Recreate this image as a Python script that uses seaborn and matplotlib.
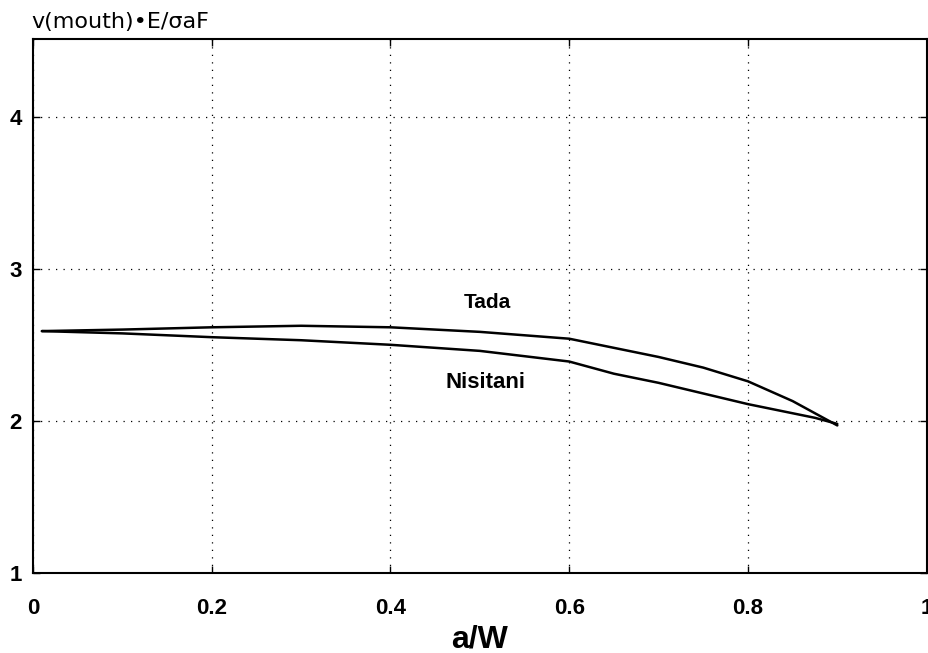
import numpy as np
import pandas as pd
import matplotlib
matplotlib.use("Agg")
import matplotlib.pyplot as plt
import seaborn as sns

# Normalised crack-mouth opening displacement vs relative crack length
a_w = [0.01, 0.1, 0.2, 0.3, 0.4, 0.5, 0.6, 0.65, 0.7, 0.75, 0.8, 0.85, 0.875, 0.9]
tada = [2.59, 2.60, 2.615, 2.625, 2.615, 2.585, 2.54, 2.48, 2.42, 2.35, 2.26, 2.13, 2.05, 1.97]
nisitani = [2.59, 2.575, 2.55, 2.53, 2.50, 2.46, 2.39, 2.31, 2.25, 2.18, 2.11, 2.05, 2.02, 1.98]

x_ticks = [0, 0.2, 0.4, 0.6, 0.8, 1]
x_tick_labels = ["0", "0.2", "0.4", "0.6", "0.8", "1"]
y_ticks = [1, 2, 3, 4]
y_tick_labels = ["1", "2", "3", "4"]

df = pd.DataFrame({
    "a/W": a_w * 2,
    "v": tada + nisitani,
    "method": ["Tada"] * len(a_w) + ["Nisitani"] * len(a_w),
})

sns.set_theme(style="white")
plt.rcParams["font.family"] = ["Liberation Sans", "DejaVu Sans"]
plt.rcParams["text.color"] = "black"
plt.rcParams["axes.labelcolor"] = "black"
plt.rcParams["xtick.color"] = "black"
plt.rcParams["ytick.color"] = "black"

fig = plt.figure(figsize=(9.29, 6.53), dpi=100)
ax = fig.add_axes([0.0355, 0.1225, 0.962, 0.8178])

sns.lineplot(data=df, x="a/W", y="v", units="method", estimator=None,
             color="black", linewidth=1.8, ax=ax, legend=False)

ax.set_xlim(0, 1)
ax.set_ylim(1, 4.51)
ax.set_xticks(x_ticks)
ax.set_xticklabels(x_tick_labels, fontsize=16, fontweight="bold")
ax.set_yticks(y_ticks)
ax.set_yticklabels(y_tick_labels, fontsize=16, fontweight="bold")
ax.tick_params(direction="in", length=5, width=1, color="black",
               top=True, right=True, bottom=True, left=True, pad=8)
ax.tick_params(axis="x", pad=18)

ax.grid(True, color="black", linestyle=(0, (1, 5)), linewidth=0.9)
for s in ax.spines.values():
    s.set_color("black")
    s.set_linewidth(1.5)

ax.set_xlabel("a/W", fontsize=23, fontweight="bold", labelpad=4)
ax.set_ylabel("")
fig.text(0.034, 0.966, "v(mouth)\u2022E/\u03c3aF", fontsize=16,
         family=["DejaVu Sans"], ha="left", va="center", color="black")

ax.text(0.508, 2.78, "Tada", fontsize=15, fontweight="bold", ha="center", va="center")
ax.text(0.506, 2.25, "Nisitani", fontsize=16, fontweight="bold", ha="center", va="center")

fig.savefig("out.png", dpi=100, facecolor="white")
